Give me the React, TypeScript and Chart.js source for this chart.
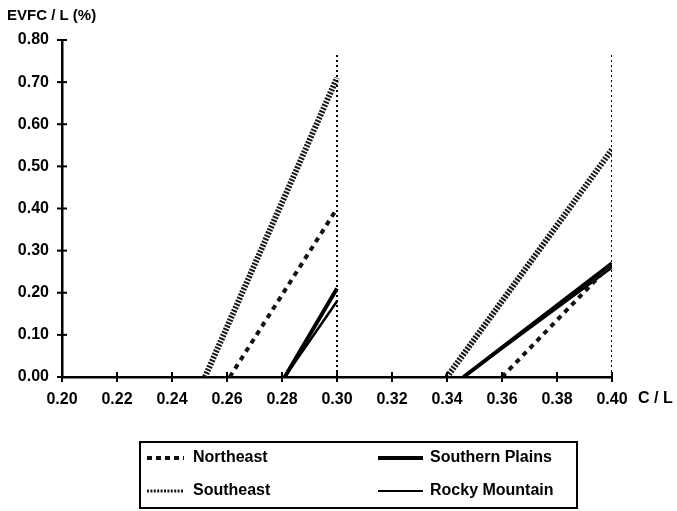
import React, { useEffect, useRef } from "react";
import { Chart, registerables } from "chart.js";

Chart.register(...registerables);

const xTickValues = [0.2, 0.22, 0.24, 0.26, 0.28, 0.3, 0.32, 0.34, 0.36, 0.38, 0.4];
const yTickValues = [0, 0.1, 0.2, 0.3, 0.4, 0.5, 0.6, 0.7, 0.8];

const seriesNames = ["Northeast", "Southeast", "Southern Plains", "Rocky Mountain"];

const northeastX = [0.261, 0.3, null, 0.36, 0.4];
const northeastY = [0, 0.4, null, 0, 0.27];
const southeastX = [0.252, 0.3, null, 0.34, 0.4];
const southeastY = [0, 0.71, null, 0, 0.54];
const southernPlainsX = [0.281, 0.3, null, 0.346, 0.4];
const southernPlainsY = [0, 0.21, null, 0, 0.27];
const rockyMountainX = [0.281, 0.3, null, 0.346, 0.4];
const rockyMountainY = [0, 0.18, null, 0, 0.26];
const markerX = [0.3, 0.3, null, 0.4, 0.4];
const markerY = [0, 0.77, null, 0, 0.77];

const yTitle = "EVFC / L (%)";
const xTitle = "C / L";

const FONT = "'Liberation Sans', Arial, sans-serif";

function pts(xs: (number | null)[], ys: (number | null)[]) {
  return xs.map((x, i) => ({ x, y: ys[i] }));
}

const styles = [
  { color: "#111", width: 4, dash: [5, 5] },
  { color: "#1a1a1a", width: 6, dash: [2, 1.4] },
  { color: "#000", width: 4, dash: [] as number[] },
  { color: "#000", width: 2.5, dash: [] as number[] },
];

export default function App() {
  const ref = useRef<HTMLCanvasElement | null>(null);
  useEffect(() => {
    if (!ref.current) return;
    const seriesData = [
      pts(northeastX, northeastY),
      pts(southeastX, southeastY),
      pts(southernPlainsX, southernPlainsY),
      pts(rockyMountainX, rockyMountainY),
    ];
    const datasets: any[] = seriesData.map((d, i) => ({
      label: seriesNames[i],
      data: d,
      showLine: true,
      borderColor: styles[i].color,
      borderWidth: styles[i].width,
      borderDash: styles[i].dash,
      borderCapStyle: "butt",
      pointRadius: 0,
      spanGaps: false,
      fill: false,
    }));
    datasets.unshift({
      label: "marker",
      data: pts(markerX, markerY),
      showLine: true,
      borderColor: "#000",
      borderWidth: 2,
      borderDash: [2, 3],
      pointRadius: 0,
      spanGaps: false,
      fill: false,
    });

    const overlay = {
      id: "overlay",
      afterDraw(chart: any) {
        const ctx = chart.ctx as CanvasRenderingContext2D;
        const xs = chart.scales.x;
        const ys = chart.scales.y;
        ctx.save();
        ctx.strokeStyle = "#000";
        ctx.lineWidth = 2;
        ctx.setLineDash([]);
        const y0 = ys.getPixelForValue(0);
        const x0 = xs.getPixelForValue(0.2);
        xTickValues.forEach((v) => {
          const px = xs.getPixelForValue(v);
          ctx.beginPath();
          ctx.moveTo(px, y0 - 5);
          ctx.lineTo(px, y0 + 5);
          ctx.stroke();
        });
        yTickValues.forEach((v) => {
          const py = ys.getPixelForValue(v);
          ctx.beginPath();
          ctx.moveTo(x0 - 5, py);
          ctx.lineTo(x0 + 5, py);
          ctx.stroke();
        });
        ctx.fillStyle = "#000";
        ctx.textBaseline = "middle";
        ctx.textAlign = "left";
        ctx.font = `bold 15px ${FONT}`;
        ctx.fillText(yTitle, 7, 16);
        ctx.font = `bold 16px ${FONT}`;
        ctx.fillText(xTitle, 638, 399);

        // legend
        const left = 140, top = 442, right = 577, bottom = 508;
        ctx.lineWidth = 2;
        ctx.strokeRect(left, top, right - left, bottom - top);
        const rows = [458, 491];
        const cols = [
          { s0: 147, s1: 184, t: 193 },
          { s0: 378, s1: 423, t: 430 },
        ];
        const order = [
          [0, 0, 0],
          [1, 0, 1],
          [2, 1, 0],
          [3, 1, 1],
        ];
        order.forEach(([si, c, r]) => {
          const st = styles[si];
          const y = rows[r];
          ctx.save();
          ctx.strokeStyle = st.color;
          ctx.lineWidth = si === 1 ? 3 : si === 3 ? 2 : st.width;
          ctx.setLineDash(si === 0 ? [5, 4] : st.dash);
          ctx.lineCap = "butt";
          ctx.beginPath();
          ctx.moveTo(cols[c].s0, y);
          ctx.lineTo(cols[c].s1, y);
          ctx.stroke();
          ctx.restore();
          ctx.fillStyle = "#000";
          ctx.font = `bold 16px ${FONT}`;
          ctx.fillText(seriesNames[si], cols[c].t, y);
        });
        ctx.restore();
      },
    };

    const chart = new Chart(ref.current, {
      type: "scatter",
      data: { datasets },
      options: {
        animation: false,
        responsive: false,
        layout: { padding: { left: 0, right: 65, top: 40, bottom: 104 } },
        plugins: { legend: { display: false }, tooltip: { enabled: false } },
        scales: {
          x: {
            type: "linear",
            min: 0.2,
            max: 0.4,
            afterBuildTicks: (s: any) => {
              s.ticks = xTickValues.map((v) => ({ value: v }));
            },
            afterFit: (s: any) => {
              s.height = 30;
            },
            grid: { display: false, drawTicks: false },
            border: { display: true, color: "#000", width: 2.5 },
            ticks: {
              padding: 13,
              color: "#000",
              font: { family: FONT, size: 16, weight: "bold" },
              callback: (v: any) => Number(v).toFixed(2),
              maxRotation: 0,
              autoSkip: false,
            },
          },
          y: {
            type: "linear",
            min: 0,
            max: 0.8,
            afterBuildTicks: (s: any) => {
              s.ticks = yTickValues.map((v) => ({ value: v }));
            },
            afterFit: (s: any) => {
              s.width = 62;
            },
            grid: { display: false, drawTicks: false },
            border: { display: true, color: "#000", width: 2.5 },
            ticks: {
              padding: 13,
              color: "#000",
              font: { family: FONT, size: 16, weight: "bold" },
              callback: (v: any) => Number(v).toFixed(2),
              autoSkip: false,
            },
          },
        },
      } as any,
      plugins: [overlay],
    });
    return () => chart.destroy();
  }, []);
  return (
    <div style={{ position: "fixed", left: 0, top: 0, width: 677, height: 511, background: "#fff" }}>
      <canvas ref={ref} width={677} height={511} />
    </div>
  );
}
